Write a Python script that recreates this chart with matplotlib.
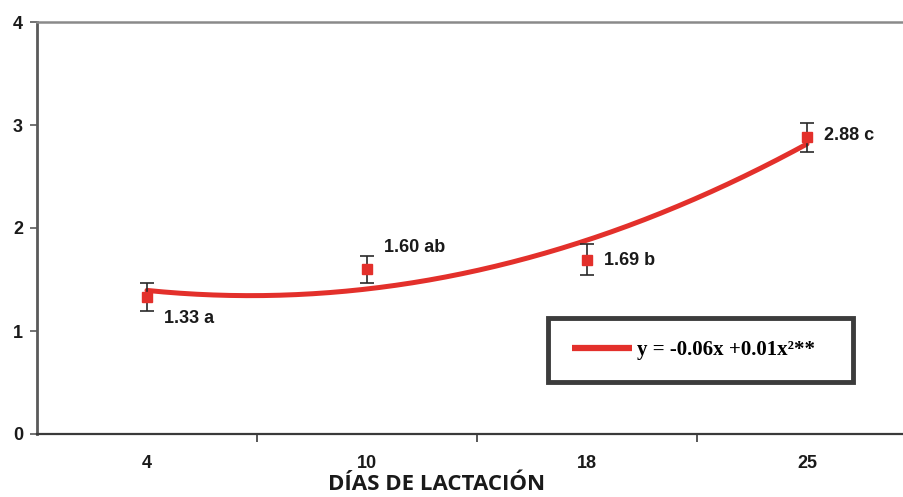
import numpy as np
import matplotlib
matplotlib.use("Agg")
import matplotlib.pyplot as plt
from matplotlib.patches import Rectangle

# ---- data ----
days = ["4", "10", "18", "25"]
means = [1.33, 1.60, 1.69, 2.88]
errors = [0.14, 0.13, 0.15, 0.14]
point_labels = ["1.33 a", "1.60 ab", "1.69 b", "2.88 c"]
y_ticks = [0, 1, 2, 3, 4]
legend_text = "y = -0.06x +0.01x\u00b2**"
x_title = "DÍAS DE LACTACIÓN"

RED = "#e3302b"
DARK = "#2a2a2a"

fig = plt.figure(figsize=(9.04, 4.97), dpi=100)
W, H = 904, 497
x0, x1 = 37, 917
yb, yt = 434, 22
ax = fig.add_axes([x0 / W, (H - yb) / H, (x1 - x0) / W, (yb - yt) / H])

pos = np.arange(len(days))

# quadratic trend line (fit on category positions)
coef = np.polyfit(pos, means, 2)
xs = np.linspace(pos[0], pos[-1], 200)
ax.plot(xs, np.polyval(coef, xs), color=RED, lw=3.6, solid_capstyle="round",
        zorder=3, label=legend_text)

# points with error bars
ax.errorbar(pos, means, yerr=errors, fmt="s", color=RED, ms=6.5,
            ecolor=DARK, elinewidth=1.2, capsize=4.7, capthick=1.2, zorder=4)

# point labels
offsets = [(17, -21), (17, 22), (17, -1), (17, 2)]
for p, m, lab, (dx, dy) in zip(pos, means, point_labels, offsets):
    ax.annotate(lab, (p, m), xytext=(dx, dy), textcoords="offset pixels",
                ha="left", va="center", fontsize=13, fontweight="bold",
                family="Liberation Sans", color="#1a1a1a")

ax.set_xlim(-0.5, 3.5)
ax.set_ylim(0, 4)

# axes styling
ax.spines["right"].set_visible(False)
ax.spines["top"].set_color("#8a8a8a")
ax.spines["top"].set_linewidth(1.8)
ax.spines["left"].set_color("#5a5a5a")
ax.spines["left"].set_linewidth(2.0)
ax.spines["bottom"].set_color("#3a3a3a")
ax.spines["bottom"].set_linewidth(1.6)

ax.set_yticks(y_ticks)
ax.set_yticklabels([str(v) for v in y_ticks], fontsize=13, fontweight="bold",
                   family="Liberation Sans", color="#1a1a1a")
ax.tick_params(axis="y", direction="out", length=5, width=1.2, color="#5a5a5a", pad=5)

ax.set_xticks(pos)
ax.set_xticklabels(days, fontsize=13, fontweight="bold",
                   family="Liberation Sans", color="#1a1a1a")
ax.set_xticks([0.5, 1.5, 2.5], minor=True)
ax.tick_params(axis="x", which="major", length=0, pad=15)
ax.tick_params(axis="x", which="minor", direction="out", length=6, width=1.2,
               color="#3a3a3a")

# x title
fig.text(437 / W, 1 - 485 / H, x_title, ha="center", va="center", fontsize=16,
         fontweight="bold", family="Open Sans", color="#1a1a1a")

# legend frame (box drawn as a patch) and legend
box = Rectangle((548 / W, 1 - 382 / H), 305 / W, 64 / H, transform=fig.transFigure,
                facecolor="white", edgecolor="#3c3c3c", linewidth=3.5,
                clip_on=False, zorder=4.5)
ax.add_artist(box)
leg = ax.legend(loc="center left", bbox_to_anchor=(572 / W, 1 - 350 / H),
                bbox_transform=fig.transFigure, frameon=False,
                prop={"family": "Liberation Serif", "weight": "bold", "size": 15},
                handlelength=2.9, handletextpad=0.2, borderpad=0, borderaxespad=0)
leg.set_zorder(6)
for h in leg.get_lines():
    h.set_linewidth(4.5)
    h.set_solid_capstyle("butt")

fig.savefig("out.png", dpi=100)
